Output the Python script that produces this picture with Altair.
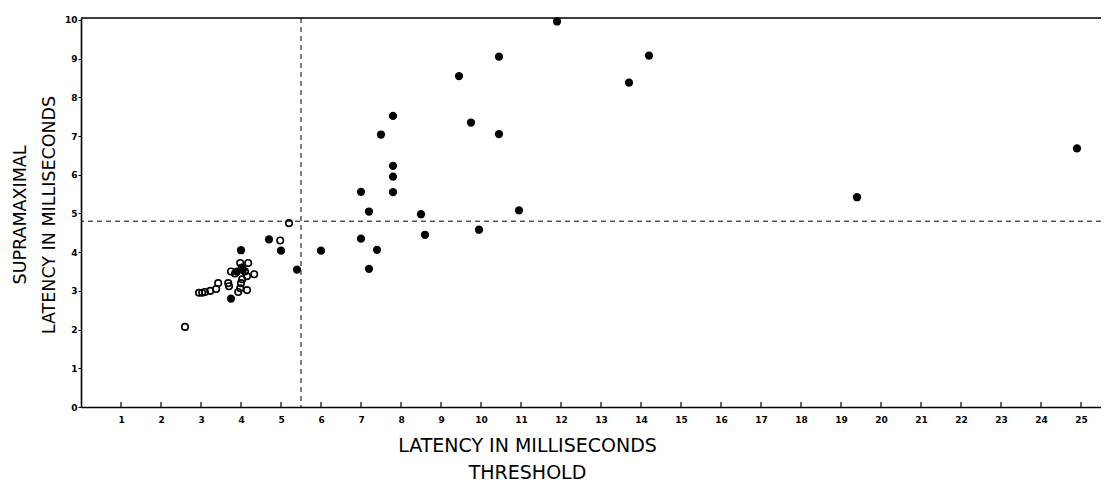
import altair as alt
import pandas as pd

# Filled circles (threshold latency, supramaximal latency), ms
filled_x = [11.9, 10.45, 9.45, 14.2, 13.7, 7.8, 7.5, 9.75, 10.45, 7.8, 7.8, 7.8, 7.0, 7.2,
            8.5, 10.95, 8.6, 9.95, 7.4, 7.0, 7.2, 6.0, 5.4, 4.7, 5.0, 4.0, 19.4, 24.9,
            3.75, 3.9, 4.05]
filled_y = [9.96, 9.05, 8.55, 9.08, 8.38, 7.52, 7.04, 7.35, 7.05, 6.23, 5.95, 5.55, 5.56, 5.05,
            4.98, 5.08, 4.45, 4.58, 4.06, 4.35, 3.57, 4.04, 3.55, 4.33, 4.04, 4.05, 5.42, 6.68,
            2.8, 3.5, 3.55]

# Open circles
open_x = [2.6, 2.95, 3.03, 3.1, 3.23, 3.38, 3.43, 3.68, 3.7, 3.75, 3.85, 3.98, 4.18, 4.02,
          4.1, 4.33, 4.15, 4.0, 4.03, 3.98, 4.15, 3.93, 4.98, 5.2]
open_y = [2.07, 2.95, 2.95, 2.97, 3.0, 3.05, 3.2, 3.2, 3.12, 3.5, 3.45, 3.72, 3.72, 3.6,
          3.5, 3.43, 3.38, 3.2, 3.3, 3.07, 3.02, 2.97, 4.3, 4.75]

x_ticks = list(range(1, 26))
y_ticks = list(range(0, 11))
threshold_cut = [5.5]
supra_cut = [4.8]
x_max = 25.5
y_max = 10.05

W, H = 1020, 389
FONT = "DejaVu Sans"

xs = alt.Scale(domain=[0, x_max], nice=False, zero=False)
ys = alt.Scale(domain=[0, y_max], nice=False, zero=False)

df_f = pd.DataFrame({"x": filled_x, "y": filled_y})
df_o = pd.DataFrame({"x": open_x, "y": open_y})
df_xt = pd.DataFrame({"x": x_ticks})
df_vc = pd.DataFrame({"x": threshold_cut})
df_hc = pd.DataFrame({"y": supra_cut})
df_top = pd.DataFrame({"x": [0], "x2": [x_max], "y": [y_max]})

x_axis = alt.Axis(
    values=x_ticks, ticks=False, grid=False, domainColor="black", domainWidth=1.6,
    labelFont=FONT, labelFontSize=9, labelFontWeight="bold", labelColor="black",
    labelPadding=8, labelFlush=False,
    title=["LATENCY IN MILLISECONDS", "THRESHOLD"], titleFont=FONT, titleFontSize=19,
    titleFontWeight="normal", titleColor="black", titleX=446, titleY=44,
    titleAlign="center", titleBaseline="alphabetic", titleLineHeight=27,
)
y_axis = alt.Axis(
    values=y_ticks, ticks=True, tickSize=3, tickColor="black", grid=False,
    domainColor="black", domainWidth=1.6,
    labelFont=FONT, labelFontSize=9, labelFontWeight="bold", labelColor="black",
    labelPadding=1, labelFlush=False,
    title=["SUPRAMAXIMAL", "LATENCY IN MILLISECONDS"], titleFont=FONT, titleFontSize=17.5,
    titleFontWeight="normal", titleColor="black", titleAngle=270, titleX=-56,
    titleY=H / 2 + 2, titleAlign="center", titleBaseline="alphabetic", titleLineHeight=29,
)


def X(field="x"):
    return alt.X(f"{field}:Q", scale=xs, axis=x_axis)


def Y(field="y"):
    return alt.Y(f"{field}:Q", scale=ys, axis=y_axis)


filled = alt.Chart(df_f).mark_point(
    filled=True, shape="circle", size=68, color="black", opacity=1
).encode(x=X(), y=Y())

opened = alt.Chart(df_o).mark_point(
    filled=False, shape="circle", size=42, color="black", strokeWidth=1.6, opacity=1
).encode(x=X(), y=Y())

xticks = alt.Chart(df_xt).mark_rule(color="black", strokeWidth=1.2).encode(
    x=X(),
    y=alt.value(H),
    y2=alt.value(H - 5),
)

vline = alt.Chart(df_vc).mark_rule(color="black", strokeWidth=1, strokeDash=[5, 4]).encode(
    x=X(),
)

hline = alt.Chart(df_hc).mark_rule(color="black", strokeWidth=1, strokeDash=[5, 4]).encode(
    y=Y(),
)

top = alt.Chart(df_top).mark_rule(color="black", strokeWidth=1.6).encode(
    x=X(),
    x2="x2:Q",
    y=Y(),
)

chart = alt.layer(vline, hline, top, xticks, opened, filled).properties(
    width=W, height=H,
    autosize=alt.AutoSizeParams(type="none"),
    padding={"left": 73, "top": 10, "right": 0, "bottom": 74},
).configure_view(stroke=None).configure(background="white")

chart.save("out.html", embed_options={"renderer": "svg", "actions": False})
